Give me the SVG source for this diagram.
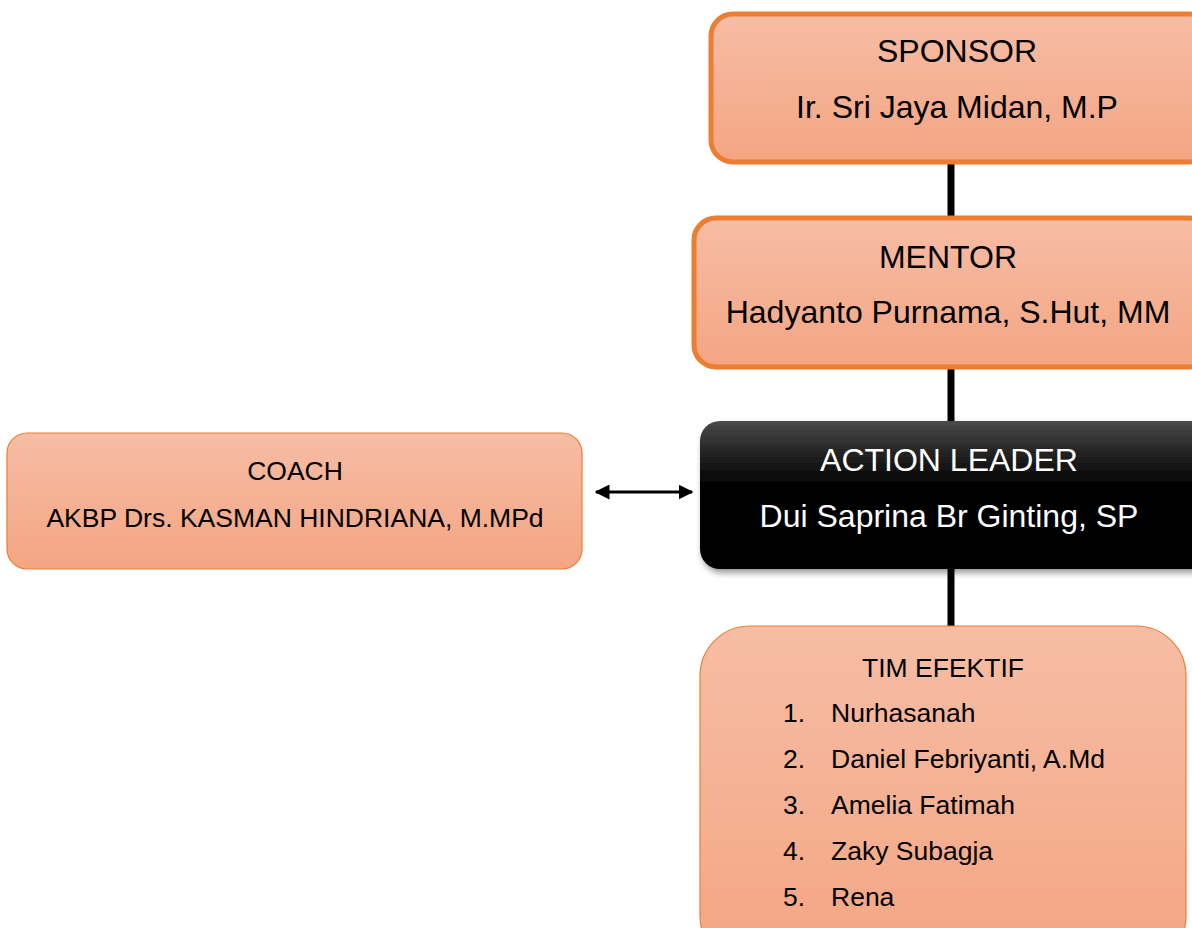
<svg xmlns="http://www.w3.org/2000/svg" width="1192" height="928" viewBox="0 0 1192 928">
<defs>
<linearGradient id="og" x1="0" y1="0" x2="0" y2="1"><stop offset="0" stop-color="#F6BDA5"/><stop offset="1" stop-color="#F4A583"/></linearGradient>
<linearGradient id="bg" x1="0" y1="0" x2="0" y2="1"><stop offset="0" stop-color="#4a4a4a"/><stop offset="0.2" stop-color="#262626"/><stop offset="0.45" stop-color="#000"/><stop offset="1" stop-color="#000"/></linearGradient>
<filter id="sh" x="-10%" y="-10%" width="130%" height="130%"><feGaussianBlur in="SourceAlpha" stdDeviation="3"/><feOffset dx="2" dy="4"/><feComponentTransfer><feFuncA type="linear" slope="0.4"/></feComponentTransfer><feMerge><feMergeNode/><feMergeNode in="SourceGraphic"/></feMerge></filter>
<marker id="ah" viewBox="0 0 10 10" refX="9" refY="5" markerWidth="5" markerHeight="5" orient="auto-start-reverse"><path d="M0,0 L10,5 L0,10 z" fill="#000"/></marker>
</defs>
<style>
text{font-family:"Liberation Sans",Arial,sans-serif;fill:#000}
.thick{fill:url(#og);stroke:#ED7D31;stroke-width:5}
.thin{fill:url(#og);stroke:#ED7D31;stroke-width:1.2}
.c{text-anchor:middle}
.big{font-size:32px}
.med{font-size:26.5px}
.w{fill:#fff}
.con{stroke:#000;stroke-width:7;fill:none}
</style>
<rect width="1192" height="928" fill="#fff"/>
<g id="connectors">
<line class="con" x1="951" y1="163" x2="951" y2="219"/>
<line class="con" x1="951" y1="367" x2="951" y2="423"/>
<line class="con" x1="951" y1="568" x2="951" y2="628"/>
<line x1="596" y1="492" x2="692" y2="492" stroke="#000" stroke-width="3" marker-start="url(#ah)" marker-end="url(#ah)"/>
</g>
<g id="sponsor">
<rect class="thick" x="711" y="14" width="500" height="148" rx="22"/>
<text class="c big" x="957" y="62">SPONSOR</text>
<text class="c big" x="957" y="118">Ir. Sri Jaya Midan, M.P</text>
</g>
<g id="mentor">
<rect class="thick" x="694" y="218" width="517" height="149" rx="22"/>
<text class="c big" x="948" y="268">MENTOR</text>
<text class="c big" x="948" y="323">Hadyanto Purnama, S.Hut, MM</text>
</g>
<g id="action-leader">
<rect x="700" y="421" width="515" height="148" rx="20" fill="url(#bg)" filter="url(#sh)"/>
<text class="c big w" x="949" y="471">ACTION LEADER</text>
<text class="c big w" x="949" y="527">Dui Saprina Br Ginting, SP</text>
</g>
<g id="coach">
<rect class="thin" x="7" y="433" width="575" height="136" rx="20"/>
<text class="c med" x="295" y="480">COACH</text>
<text class="c med" x="295" y="527">AKBP Drs. KASMAN HINDRIANA, M.MPd</text>
</g>
<g id="tim-efektif">
<rect class="thin" x="700" y="626" width="486" height="340" rx="50"/>
<text class="c med" x="943" y="677">TIM EFEKTIF</text>
<text class="med" x="783" y="722">1.</text><text class="med" x="831" y="722">Nurhasanah</text>
<text class="med" x="783" y="768">2.</text><text class="med" x="831" y="768">Daniel Febriyanti, A.Md</text>
<text class="med" x="783" y="814">3.</text><text class="med" x="831" y="814">Amelia Fatimah</text>
<text class="med" x="783" y="860">4.</text><text class="med" x="831" y="860">Zaky Subagja</text>
<text class="med" x="783" y="906">5.</text><text class="med" x="831" y="906">Rena</text>
</g>
</svg>
